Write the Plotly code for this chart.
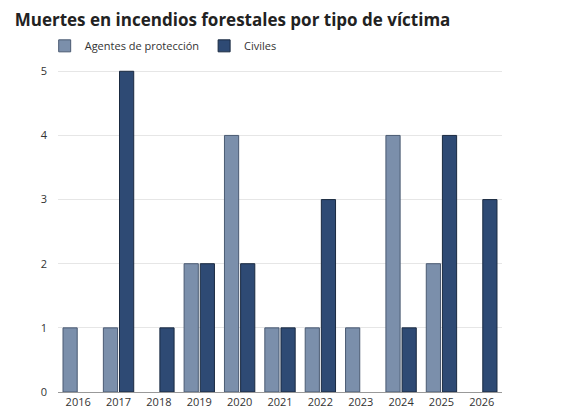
import plotly.graph_objects as go

years = ["2016","2017","2018","2019","2020","2021","2022","2023","2024","2025","2026"]
agentes = [1,1,0,2,4,1,1,1,4,2,0]
civiles = [0,5,1,2,2,1,3,0,1,4,3]

def nz(v):
    return [x if x != 0 else None for x in v]

fig = go.Figure()
fig.add_bar(x=years, y=nz(agentes), name="Agentes de protección",
            marker=dict(color="#7b8fab", line=dict(color="#4a5a72", width=1)))
fig.add_bar(x=years, y=nz(civiles), name="Civiles",
            marker=dict(color="#2e4a74", line=dict(color="#1a2a40", width=1)))

fig.update_layout(
    width=562, height=413,
    paper_bgcolor="white", plot_bgcolor="white",
    font=dict(family="Open Sans", size=11, color="#333"),
    title=dict(text="<b>Muertes en incendios forestales por tipo de víctima</b>",
               x=0.012, y=0.985, xanchor="left", yanchor="top",
               font=dict(size=17, color="#222")),
    legend=dict(orientation="h", x=-0.03, y=1.03, xanchor="left", yanchor="bottom",
                font=dict(size=11), traceorder="normal", itemwidth=30),
    margin=dict(l=50, r=68, t=62, b=18),
    barmode="group", bargap=0.2, bargroupgap=0.12,
    showlegend=True,
)
fig.update_xaxes(showline=True, linecolor="#999", ticks="", tickfont=dict(size=11))
fig.update_yaxes(range=[0,5.02], dtick=1, gridcolor="#e6e6e6", zeroline=False,
                 tickfont=dict(size=11), ticklabelstandoff=10)
fig.write_html("out.html")
